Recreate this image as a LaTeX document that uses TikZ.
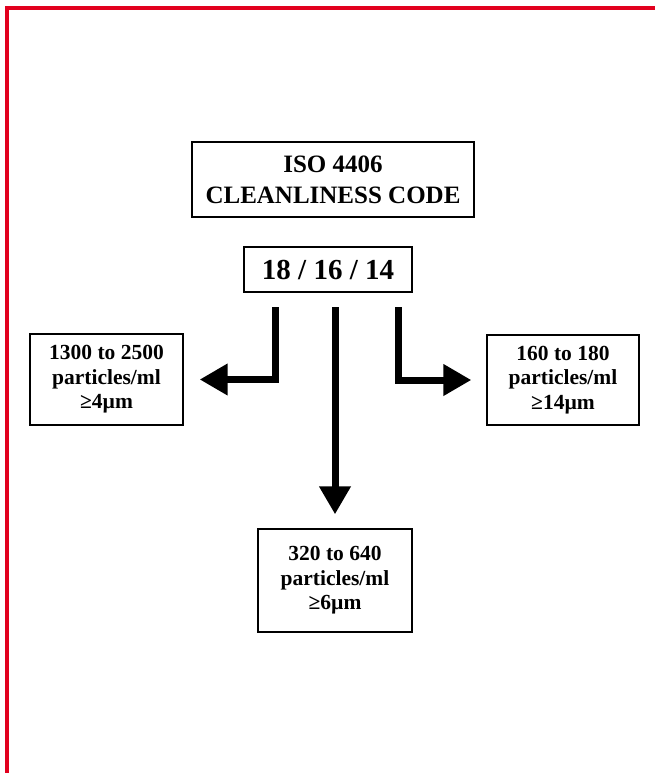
\documentclass[tikz,border=0pt]{standalone}
\usepackage{fontspec}
\setmainfont{Liberation Serif}
\usetikzlibrary{arrows.meta}
\definecolor{framered}{RGB}{226,0,30}
\tikzset{
  box/.style={draw=black, line width=1.3pt, inner sep=0pt, align=center, font=\bfseries},
  smallbox/.style={box, font=\bfseries\fontsize{21.5}{24.5}\selectfont},
  bigarrow/.style={line width=7pt, -{Triangle[length=28pt,width=30pt]}},
  frameline/.style={draw=framered, line width=3.2pt}
}
\begin{document}
\begin{tikzpicture}[x=1pt,y=-1pt]
\useasboundingbox (0,0) rectangle (655,773);
\fill[white] (0,0) rectangle (655,773);
\draw[frameline] (7,773) -- (7,8) -- (655,8);

\node[box, line width=1.6pt, minimum width=282pt, minimum height=75pt,
      font=\bfseries\fontsize{25}{31}\selectfont] (title) at (333,179.5) {ISO 4406\\CLEANLINESS CODE};
\node[box, minimum width=168pt, minimum height=45pt,
      font=\bfseries\fontsize{29}{34}\selectfont] (code) at (328,269.5) {18 / 16 / 14};

\node[smallbox, minimum width=153pt, minimum height=91pt] (lbox) at (106.5,379.5) {1300 to 2500\\particles/ml\\≥4µm};
\node[smallbox, minimum width=152pt, minimum height=90pt] (rbox) at (563,380) {160 to 180\\particles/ml\\≥14µm};
\node[smallbox, minimum width=154pt, minimum height=103pt] (bbox) at (335,580.5) {320 to 640\\particles/ml\\≥6µm};

\coordinate (sL) at (275,307);
\coordinate (sM) at (335,307);
\coordinate (sR) at (398,307);

\draw[bigarrow, shorten >=16pt] (sL) |- (lbox);
\draw[bigarrow, shorten >=15pt] (sR) |- (rbox);
\draw[bigarrow, shorten >=14pt] (sM) -- (bbox);
\end{tikzpicture}
\end{document}
